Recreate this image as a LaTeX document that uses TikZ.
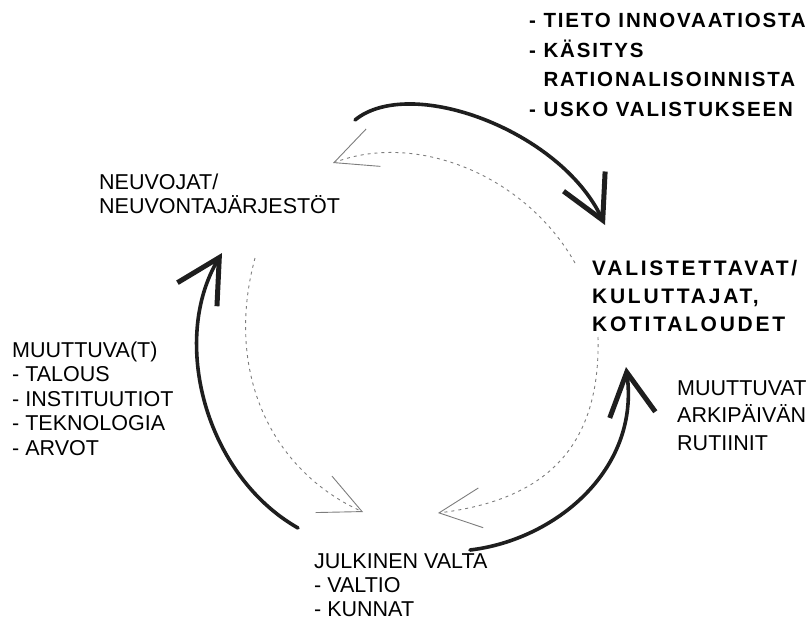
\documentclass[tikz,border=0pt]{standalone}
\usepackage{fontspec}
\setmainfont{Liberation Sans}
\newfontfamily\trackfont[LetterSpace=9]{Liberation Sans}
\newfontfamily\widetrackfont[LetterSpace=13]{Liberation Sans}
\usetikzlibrary{arrows.meta}
\definecolor{cycleblack}{RGB}{30,30,30}
\definecolor{cyclegray}{RGB}{125,125,125}

\begin{document}
\begin{tikzpicture}[x=1pt, y=-1pt,
  solidarc/.style={draw=cycleblack, line width=3.6pt, line cap=round,
    -{Straight Barb[length=43pt, width=46pt, line width=5pt]}},
  dasharc/.style={draw=cyclegray, line width=0.9pt, dash pattern=on 3pt off 4pt,
    -{Straight Barb[length=42pt, width=40pt, line width=0.9pt]}},
  plainlbl/.style={font=\fontsize{21.5}{24}\selectfont, align=left,
    inner sep=0pt, anchor=base west},
  boldlbl/.style={font=\trackfont\bfseries\fontsize{20.5}{29.5}\selectfont,
    align=left, inner sep=0pt, anchor=base west}]
\useasboundingbox (0,0) rectangle (810,631);

% labels (placed at the baseline of their last line)
\node[boldlbl] (ideas) at (529,116.5) {- TIETO INNOVAATIOSTA\\- KÄSITYS\\\hphantom{- }RATIONALISOINNISTA\\- USKO VALISTUKSEEN};
\node[boldlbl, font=\widetrackfont\bfseries\fontsize{21}{28}\selectfont] (consumers) at (592,331) {VALISTETTAVAT/\\KULUTTAJAT,\\KOTITALOUDET};
\node[plainlbl, font=\fontsize{21.5}{27.5}\selectfont] (routines) at (677,450) {MUUTTUVAT\\ARKIPÄIVÄN\\RUTIINIT};
\node[plainlbl] (advisers) at (99,213) {NEUVOJAT/\\NEUVONTAJÄRJESTÖT};
\node[plainlbl, font=\fontsize{21.5}{24.5}\selectfont] (changing) at (12,455) {MUUTTUVA(T)\\- TALOUS\\- INSTITUUTIOT\\- TEKNOLOGIA\\- ARVOT};
\node[plainlbl] (public) at (314,616) {JULKINEN VALTA\\- VALTIO\\- KUNNAT};

% ends of the cycle arcs
\coordinate (topstart) at (355,120);
\coordinate (topend) at (605,225);
\coordinate (rightstart) at (470,550);
\coordinate (rightend) at (626,367);
\coordinate (leftstart) at (298,528);
\coordinate (leftend) at (222,253);
\coordinate (backtopstart) at (575,263);
\coordinate (backtopend) at (333,163);
\coordinate (backrightstart) at (598,337);
\coordinate (backrightend) at (438,513);
\coordinate (backleftstart) at (255,258);
\coordinate (backleftend) at (363,512);

% outer cycle
\draw[solidarc] (topstart) .. controls (410,75) and (560,130) .. (topend);
\draw[solidarc] (rightstart) .. controls (555,540) and (640,470) .. (rightend);
\draw[solidarc] (leftstart) .. controls (205,475) and (170,340) .. (leftend);

% inner cycle, the other way round
\draw[dasharc] (backtopstart) .. controls (526,176) and (417,131) .. (backtopend);
\draw[dasharc] (backrightstart) .. controls (601,455) and (537,501) .. (backrightend);
\draw[dasharc] (backleftstart) .. controls (224,373) and (272,471) .. (backleftend);
\end{tikzpicture}
\end{document}
